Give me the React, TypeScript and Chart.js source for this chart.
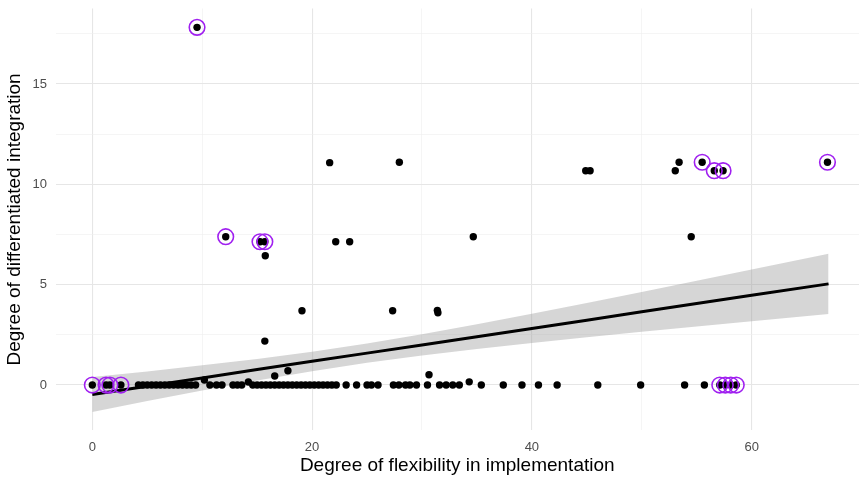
import React, { useEffect, useRef } from 'react';
import { Chart, registerables } from 'chart.js';

Chart.register(...registerables);

// Points lying on y = 0
const baselineX = [
  0, 1.25, 1.6, 2.6, 4.2, 4.6, 5.0, 5.4, 5.8, 6.2, 6.6, 7.0, 7.4, 7.8, 8.2, 8.6, 9.0, 9.4,
  10.7, 11.3, 11.8, 12.8, 13.2, 13.6, 14.6, 15.0, 15.4, 15.8, 16.2, 16.6, 17.0, 17.4, 17.8,
  18.2, 18.6, 19.0, 19.4, 19.8, 20.2, 20.6, 21.0, 21.4, 21.8, 22.2, 23.1, 24.05, 25.0, 25.4,
  26.0, 27.4, 27.9, 28.5, 28.9, 29.5, 30.5, 31.6, 32.2, 32.8, 33.4, 35.4, 37.4, 39.1, 40.6,
  42.3, 46.0, 49.9, 53.9, 55.7, 57.1, 57.6, 58.1, 58.6,
];

// Points above y = 0
const raisedX = [
  9.53, 12.14, 15.26, 15.7, 15.74, 21.6, 22.15, 23.42, 19.08, 27.94, 34.67, 27.33, 31.4, 31.45,
  15.7, 44.9, 45.3, 53.05, 53.4, 55.5, 56.6, 57.4, 66.9, 54.5, 16.6, 17.8, 30.64, 34.3, 10.2, 14.2,
];
const raisedY = [
  17.82, 7.39, 7.14, 7.14, 6.44, 11.08, 7.14, 7.14, 3.7, 11.1, 7.39, 3.7, 3.72, 3.6,
  2.19, 10.68, 10.68, 10.68, 11.1, 11.1, 10.68, 10.68, 11.1, 7.39, 0.45, 0.71, 0.51, 0.16, 0.25, 0.15,
];

// Highlighted (circled) points
const circledX = [0, 1.25, 1.6, 2.6, 9.53, 12.14, 15.26, 15.7, 55.5, 56.6, 57.4, 66.9, 57.1, 57.6, 58.1, 58.6];
const circledY = [0, 0, 0, 0, 17.82, 7.39, 7.14, 7.14, 11.1, 10.68, 10.68, 11.1, 0, 0, 0, 0];

// Linear fit with confidence band
const fitX = [0, 5, 10, 15, 20, 25, 30, 35, 40, 45, 50, 55, 60, 67];
const fitY = [-0.47, -0.06, 0.35, 0.77, 1.18, 1.59, 2.0, 2.41, 2.82, 3.23, 3.65, 4.06, 4.47, 5.04];
const bandLow = [-1.34, -0.8, -0.27, 0.23, 0.69, 1.11, 1.47, 1.79, 2.09, 2.38, 2.65, 2.92, 3.18, 3.54];
const bandHigh = [0.4, 0.68, 0.98, 1.3, 1.66, 2.07, 2.53, 3.03, 3.55, 4.09, 4.64, 5.2, 5.76, 6.54];

const xTicks = [0, 10, 20, 30, 40, 50, 60];
const yTicks = [0, 2.5, 5, 7.5, 10, 12.5, 15, 17.5];

const xTitle = 'Degree of flexibility in implementation';
const yTitle = 'Degree of differentiated integration';

const FONT = '"Liberation Sans", Arial, Helvetica, sans-serif';

export default function App() {
  const ref = useRef<HTMLCanvasElement | null>(null);

  useEffect(() => {
    if (!ref.current) return;
    const pts = (xs: number[], ys: number[]) => xs.map((x, i) => ({ x, y: ys[i] }));
    const allPoints = [
      ...baselineX.map((x) => ({ x, y: 0 })),
      ...pts(raisedX, raisedY),
    ];
    const gridColor = (ctx: any, step: number) =>
      ctx.tick && Math.abs(ctx.tick.value % step) < 1e-9 ? '#e6e6e6' : '#efefef';
    const gridWidth = (ctx: any, step: number) =>
      ctx.tick && Math.abs(ctx.tick.value % step) < 1e-9 ? 1.1 : 0.6;
    const zeroPad = (scale: any) => {
      scale.paddingTop = 0;
      scale.paddingBottom = 0;
      scale.paddingLeft = 0;
      scale.paddingRight = 0;
    };

    const chart = new Chart(ref.current, {
      type: 'scatter',
      data: {
        datasets: [
          {
            data: pts(circledX, circledY),
            pointRadius: 7.8,
            pointBorderWidth: 1.6,
            pointBorderColor: '#a020f0',
            pointBackgroundColor: 'rgba(0,0,0,0)',
            order: 0,
          } as any,
          {
            type: 'line',
            data: pts(fitX, fitY),
            borderColor: '#000000',
            borderWidth: 3,
            pointRadius: 0,
            fill: false,
            order: 1,
          } as any,
          {
            data: allPoints,
            pointRadius: 3.7,
            pointBorderWidth: 0,
            pointBackgroundColor: '#000000',
            order: 2,
          } as any,
          {
            type: 'line',
            data: pts(fitX, bandLow),
            borderWidth: 0,
            borderColor: 'rgba(0,0,0,0)',
            pointRadius: 0,
            fill: false,
            order: 3,
          } as any,
          {
            type: 'line',
            data: pts(fitX, bandHigh),
            borderWidth: 0,
            borderColor: 'rgba(0,0,0,0)',
            backgroundColor: 'rgba(153,153,153,0.4)',
            pointRadius: 0,
            fill: '-1',
            order: 3,
          } as any,
        ],
      },
      options: {
        animation: false,
        responsive: false,
        events: [],
        layout: { autoPadding: false, padding: { top: 8.5, left: 0, right: 0, bottom: 0 } },
        plugins: { legend: { display: false }, tooltip: { enabled: false } },
        scales: {
          x: {
            type: 'linear',
            min: -3.35,
            max: 69.77,
            afterBuildTicks: (scale: any) => {
              scale.ticks = xTicks.map((v) => ({ value: v }));
            },
            afterFit: (scale: any) => {
              scale.height = 48.6;
              zeroPad(scale);
            },
            border: { display: false },
            grid: {
              drawTicks: false,
              color: (ctx: any) => gridColor(ctx, 20),
              lineWidth: (ctx: any) => gridWidth(ctx, 20),
            },
            ticks: {
              padding: 9,
              color: '#4d4d4d',
              font: { family: FONT, size: 13 },
              maxRotation: 0,
              autoSkip: false,
              callback: (v: any) => (Number(v) % 20 === 0 ? String(v) : ''),
            },
            title: {
              display: true,
              text: xTitle,
              color: '#000000',
              font: { family: FONT, size: 19 },
              padding: { top: 0, bottom: 2 },
            },
          },
          y: {
            type: 'linear',
            min: -2.26,
            max: 18.76,
            afterBuildTicks: (scale: any) => {
              scale.ticks = yTicks.map((v) => ({ value: v }));
            },
            afterFit: (scale: any) => {
              scale.width = 55.5;
              zeroPad(scale);
            },
            border: { display: false },
            grid: {
              drawTicks: false,
              color: (ctx: any) => gridColor(ctx, 5),
              lineWidth: (ctx: any) => gridWidth(ctx, 5),
            },
            ticks: {
              padding: 8.5,
              color: '#4d4d4d',
              font: { family: FONT, size: 13 },
              autoSkip: false,
              callback: (v: any) => (Number(v) % 5 === 0 ? String(v) : ''),
            },
            title: {
              display: true,
              text: yTitle,
              color: '#000000',
              font: { family: FONT, size: 19 },
              padding: { top: 3.5, bottom: 0 },
            },
          },
        },
      } as any,
    });
    return () => chart.destroy();
  }, []);

  return (
    <div style={{ position: 'absolute', left: 0, top: 0, width: 859, height: 479, background: '#ffffff' }}>
      <canvas ref={ref} width={859} height={479} style={{ display: 'block' }} />
    </div>
  );
}
